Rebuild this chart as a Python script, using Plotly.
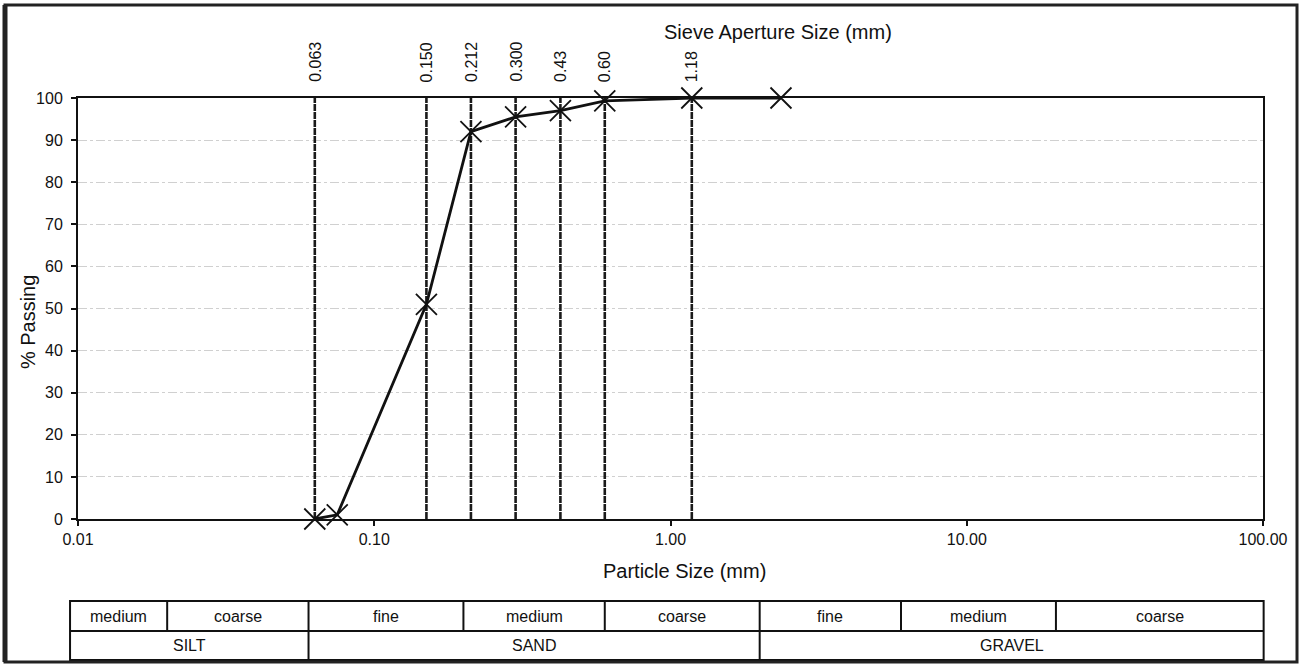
import plotly.graph_objects as go
import math

# ---------------- data ----------------
particle_size_mm = [0.063, 0.075, 0.150, 0.212, 0.300, 0.425, 0.600, 1.18, 2.36]
percent_passing = [0.0, 1.0, 51.0, 92.0, 95.5, 97.0, 99.3, 100.0, 100.0]

sieve_sizes = [0.063, 0.150, 0.212, 0.300, 0.425, 0.600, 1.18]
sieve_labels = ["0.063", "0.150", "0.212", "0.300", "0.43", "0.60", "1.18"]

x_tick_vals = [0.01, 0.1, 1, 10, 100]
x_tick_text = ["0.01", "0.10", "1.00", "10.00", "100.00"]
y_tick_vals = list(range(0, 101, 10))

# classification table (mm boundaries)
table_left_mm = 0.0094
table_right_mm = 100.5
sub_bounds = [0.02, 0.06, 0.2, 0.6, 2, 6, 20]
sub_labels = ["medium", "coarse", "fine", "medium", "coarse", "fine", "medium", "coarse"]
main_bounds = [0.06, 2]
main_labels = ["SILT", "SAND", "GRAVEL"]

FONT = "Liberation Sans, Arial, sans-serif"
INK = "#111111"

# ---------------- figure ----------------
fig = go.Figure()

# sieve aperture vertical lines
vx, vy = [], []
for s in sieve_sizes:
    vx += [s, s, None]
    vy += [0, 100, None]
fig.add_trace(go.Scatter(x=vx, y=vy, mode="lines",
                         line=dict(color="#1a1a1a", width=2.6, dash="7px,1px"),
                         hoverinfo="skip", showlegend=False))

# grading curve
fig.add_trace(go.Scatter(
    x=particle_size_mm, y=percent_passing, mode="lines+markers",
    line=dict(color=INK, width=2.8),
    marker=dict(symbol="x-thin", size=21, color=INK,
                line=dict(color=INK, width=1.8)),
    showlegend=False, cliponaxis=False))


def px(v):
    """mm value -> paper x on the log axis"""
    return (math.log10(v) + 2) / 4


annotations = []
shapes = []

# sieve labels on top
for s, lab in zip(sieve_sizes, sieve_labels):
    annotations.append(dict(x=math.log10(s), xref="x", y=1, yref="paper",
                            text=lab, textangle=-90, showarrow=False,
                            xanchor="center", yanchor="bottom", yshift=14,
                            font=dict(family=FONT, size=16, color=INK)))

annotations.append(dict(x=0.591, xref="paper", y=1.157, yref="paper",
                        text="Sieve Aperture Size (mm)", showarrow=False,
                        xanchor="center", yanchor="middle",
                        font=dict(family=FONT, size=20, color=INK)))
annotations.append(dict(x=0.512, xref="paper", y=-0.1235, yref="paper",
                        text="Particle Size (mm)", showarrow=False,
                        xanchor="center", yanchor="middle",
                        font=dict(family=FONT, size=20, color=INK)))
annotations.append(dict(x=-0.0422, xref="paper", y=0.470, yref="paper",
                        text="% Passing", showarrow=False, textangle=-90,
                        xanchor="center", yanchor="middle",
                        font=dict(family=FONT, size=20, color=INK)))

# table geometry (paper y)
ty_top, ty_mid, ty_bot = -0.195, -0.266, -0.335
xl, xr = px(table_left_mm), px(table_right_mm)
line_style = dict(color=INK, width=2)
shapes.append(dict(type="rect", xref="paper", yref="paper",
                   x0=xl, x1=xr, y0=ty_bot, y1=ty_top, line=line_style))
shapes.append(dict(type="line", xref="paper", yref="paper",
                   x0=xl, x1=xr, y0=ty_mid, y1=ty_mid, line=line_style))
for b in sub_bounds:
    shapes.append(dict(type="line", xref="paper", yref="paper",
                       x0=px(b), x1=px(b), y0=ty_mid, y1=ty_top, line=line_style))
for b in main_bounds:
    shapes.append(dict(type="line", xref="paper", yref="paper",
                       x0=px(b), x1=px(b), y0=ty_bot, y1=ty_mid, line=line_style))

edges = [table_left_mm] + sub_bounds + [table_right_mm]
for i, lab in enumerate(sub_labels):
    cx = (px(edges[i]) + px(edges[i + 1])) / 2
    annotations.append(dict(x=cx, xref="paper", y=(ty_top + ty_mid) / 2, yref="paper",
                            text=lab, showarrow=False, xanchor="center", yanchor="middle",
                            font=dict(family=FONT, size=16, color=INK)))
medges = [table_left_mm] + main_bounds + [table_right_mm]
for i, lab in enumerate(main_labels):
    cx = (px(medges[i]) + px(medges[i + 1])) / 2
    annotations.append(dict(x=cx, xref="paper", y=(ty_mid + ty_bot) / 2, yref="paper",
                            text=lab, showarrow=False, xanchor="center", yanchor="middle",
                            font=dict(family=FONT, size=16, color=INK)))

# page border (scan frame)
shapes.append(dict(type="rect", xref="paper", yref="paper",
                   x0=-0.0616, x1=1.0287, y0=-0.3397, y1=1.221,
                   line=dict(color="#222", width=3)))
shapes.append(dict(type="line", xref="paper", yref="paper",
                   x0=-0.0616, x1=-0.0616, y0=-0.3397, y1=1.221,
                   line=dict(color="#222", width=5)))

fig.update_layout(
    width=1301, height=666,
    margin=dict(l=78, r=38, t=98, b=147),
    paper_bgcolor="white", plot_bgcolor="white",
    font=dict(family=FONT, size=16, color=INK),
    annotations=annotations, shapes=shapes,
    xaxis=dict(type="log", range=[-2, 2], tickvals=x_tick_vals, ticktext=x_tick_text,
               showgrid=False, zeroline=False, showline=True, linecolor=INK,
               linewidth=2, mirror=True, ticks="outside", ticklen=5, tickcolor=INK,
               tickwidth=1.5, ticklabelstandoff=0,
               tickfont=dict(family=FONT, size=16, color=INK)),
    yaxis=dict(range=[0, 100], tickvals=y_tick_vals, showgrid=True,
               gridcolor="#d0d0d0", griddash="dashdot", gridwidth=1,
               zeroline=False, showline=True, linecolor=INK, linewidth=2,
               mirror=True, ticks="outside", ticklen=5, tickcolor=INK, tickwidth=1.5,
               ticklabelstandoff=5,
               tickfont=dict(family=FONT, size=16, color=INK)),
)

fig.write_html("out.html",
               config={"displayModeBar": False},
               post_script="document.body.style.margin='0px';document.body.style.overflow='hidden';")
